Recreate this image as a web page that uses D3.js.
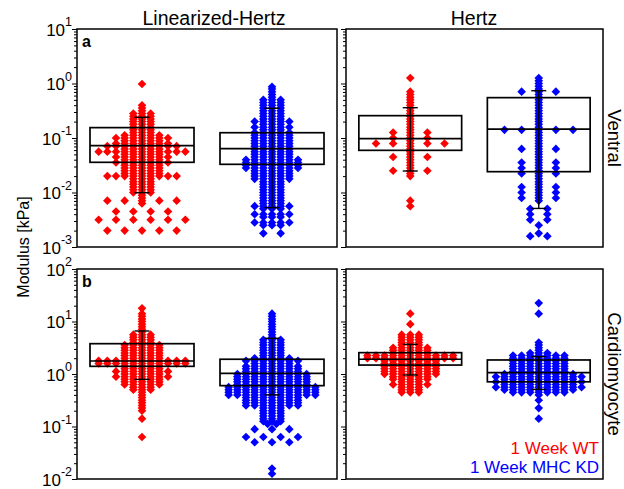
<!DOCTYPE html>
<html><head><meta charset="utf-8">
<script src="https://cdn.jsdelivr.net/npm/d3@7"></script>
<style>body{margin:0;background:#fff}svg{display:block}</style>
</head><body><svg id="c" width="624" height="489"></svg>
<script>
// ---------- categories / labels ----------
const methods = ["Linearized-Hertz", "Hertz"];
const regions = ["Ventral", "Cardiomyocyte"];
const groups = ["1 Week WT", "1 Week MHC KD"];
const groupColors = ["#ff0000", "#0000ff"];
const panelLetters = ["a", "b"];
const ventralDomain = [1e-3, 1e1];
const cardioDomain = [1e-2, 1e2];

// ---------- swarm data: [modulus kPa, number of markers at that value] ----------
const ventralLinWT = [[0.98,1],[0.398,1],[0.355,1],[0.316,1],
 [0.282,3],[0.251,3],[0.224,3],[0.200,3],[0.178,3],[0.158,3],[0.141,3],[0.126,3],
 [0.112,5],[0.100,7],[0.0891,5],[0.0794,7],[0.0708,9],[0.0631,5],[0.0562,11],[0.0501,5],[0.0447,7],[0.0398,5],[0.0355,7],[0.0316,5],
 [0.0282,5],[0.0251,5],[0.0224,5],[0.0200,9],
 [0.0178,3],[0.0158,3],[0.0141,3],[0.0126,3],[0.0112,3],
 [0.0100,3],[0.00891,1],[0.00794,1],[0.00708,5],[0.00631,1],
 [0.00447,4],[0.00316,6],[0.00200,5]];
const ventralLinKD = [[0.87,1],[0.794,1],[0.708,1],[0.631,1],[0.562,1],
 [0.501,3],[0.447,3],[0.398,3],[0.355,3],[0.316,3],[0.282,3],[0.251,3],[0.224,3],
 [0.200,5],[0.178,3],[0.158,5],[0.141,3],[0.126,5],
 [0.112,5],[0.100,5],[0.0891,5],[0.0794,5],[0.0708,5],[0.0631,5],[0.0562,5],[0.0501,5],[0.0447,5],
 [0.0398,7],[0.0355,7],[0.0316,7],[0.0282,7],
 [0.0251,5],[0.0224,5],[0.0200,5],[0.0178,5],
 [0.0158,3],[0.0141,3],[0.0126,3],[0.0112,3],[0.0100,3],[0.00891,3],[0.00794,3],[0.00708,3],[0.00631,3],
 [0.00562,5],[0.00501,3],[0.00398,5],[0.00355,3],[0.00282,5],[0.00251,3],
 [0.00178,2]];
const ventralHertzWT = [[1.26,1],[0.708,1],[0.631,1],[0.562,1],[0.501,1],[0.447,1],[0.398,1],[0.355,1],[0.316,1],
 [0.282,1],[0.251,1],[0.224,1],[0.200,1],[0.178,1],[0.158,1],[0.141,1],
 [0.126,3],[0.112,1],[0.100,3],[0.0891,1],[0.0794,5],[0.0708,1],[0.0631,1],[0.0562,1],[0.0501,1],[0.0447,3],
 [0.0398,1],[0.0355,1],[0.0316,1],[0.0282,1],[0.0251,3],[0.0224,1],[0.0200,1],
 [0.00708,1],[0.00562,1]];
const ventralHertzKD = [[1.26,1],[1.12,1],[1.00,1],[0.891,1],[0.794,1],[0.708,3],[0.631,1],[0.562,1],[0.501,1],
 [0.447,1],[0.398,1],[0.355,1],[0.316,1],[0.282,1],[0.251,1],[0.224,1],[0.200,1],[0.178,1],[0.158,1],
 [0.141,5],[0.126,1],[0.112,1],[0.100,1],[0.0891,1],[0.0794,1],[0.0708,1],[0.0631,3],[0.0562,1],[0.0501,1],
 [0.0447,1],[0.0398,1],[0.0355,3],[0.0316,1],[0.0282,3],[0.0251,1],[0.0224,3],[0.0200,1],[0.0178,1],
 [0.0158,1],[0.0141,1],[0.0126,3],[0.0112,1],[0.0100,3],[0.00891,1],[0.00794,3],[0.00708,1],
 [0.00501,2],[0.00398,2],[0.00316,2],[0.00251,1],[0.00178,1],[0.00158,2]];
const cardioLinWT = [[17.8,1],[14.1,1],[12.6,1],[11.2,1],[10.0,1],[8.91,1],[7.94,1],[7.08,1],[6.31,1],
 [5.62,3],[5.01,3],[4.47,3],[3.98,3],
 [3.55,5],[3.16,5],[2.82,5],[2.51,5],[2.24,5],[2.00,5],
 [1.78,11],[1.58,11],
 [1.41,5],[1.26,5],[1.12,7],[1.00,5],[0.891,7],[0.794,5],[0.708,5],[0.631,5],
 [0.562,3],[0.501,3],[0.447,1],[0.398,1],[0.355,1],[0.316,1],[0.282,1],[0.251,1],[0.224,1],[0.200,1],
 [0.141,1],[0.0631,1]];
const cardioLinKD = [[14.1,1],[12.6,1],[11.2,1],[10.0,1],[8.91,1],[7.94,1],[7.08,1],[6.31,1],[5.62,1],[5.01,1],
 [4.47,3],[3.98,3],[3.55,3],[3.16,3],[2.82,3],[2.51,3],[2.24,3],
 [2.00,5],[1.78,7],[1.58,5],[1.41,7],[1.26,7],[1.12,7],
 [1.00,9],[0.891,9],[0.794,9],[0.708,9],[0.631,9],
 [0.562,11],[0.501,11],[0.447,11],[0.398,11],
 [0.355,7],[0.316,7],[0.282,7],[0.251,7],
 [0.224,3],[0.200,3],[0.178,3],[0.158,3],[0.141,3],[0.126,3],
 [0.112,2],[0.0891,3],[0.0631,4],[0.0501,3],[0.0158,1],[0.0126,1]];
const cardioHertzWT = [[14.1,1],[8.91,1],
 [5.62,3],[5.01,3],[4.47,3],[3.98,3],[3.55,3],
 [3.16,5],[2.82,5],[2.51,5],
 [2.24,11],[2.00,11],
 [1.78,7],[1.58,7],[1.41,7],[1.26,7],[1.12,7],[1.00,7],
 [0.891,5],[0.794,5],[0.708,3],[0.631,5],[0.562,3],[0.501,3],[0.447,3]];
const cardioHertzKD = [[22.4,1],[14.1,1],
 [3.98,1],[3.55,1],[3.16,1],[2.82,1],
 [2.51,3],[2.24,7],[2.00,7],[1.78,7],[1.58,7],[1.41,7],[1.26,7],[1.12,7],
 [1.00,9],[0.891,11],[0.794,9],[0.708,11],[0.631,9],[0.562,11],[0.501,9],
 [0.447,7],[0.398,1],[0.316,1],[0.224,1],[0.141,1]];

// ---------- box stats: [q1, median, q3, whiskerLow, whiskerHigh] ----------
const boxVentralLinWT = [0.0358, 0.0723, 0.155, 0.0099, 0.24];
const boxVentralLinKD = [0.0329, 0.0637, 0.125, 0.00526, 0.351];
const boxVentralHertzWT = [0.0594, 0.097, 0.257, 0.0248, 0.36];
const boxVentralHertzKD = [0.0241, 0.146, 0.55, 0.0051, 0.738];
const boxCardioLinWT = [1.40, 1.77, 3.78, 0.79, 6.6];
const boxCardioLinKD = [0.60, 1.03, 1.91, 0.40, 4.79];
const boxCardioHertzWT = [1.48, 1.91, 2.55, 0.957, 3.68];
const boxCardioHertzKD = [0.71, 1.06, 1.85, 0.51, 2.14];

// ---------- layout ----------
const FONT = "'Liberation Sans', Arial, Helvetica, sans-serif";
const colRanges = [[77, 337], [346, 603]];
const rowRanges = [[29, 247], [269, 479]];
const titleX = [214, 474];
const panels = [
  {r:0, c:0, swarms:[ventralLinWT, ventralLinKD], boxes:[boxVentralLinWT, boxVentralLinKD]},
  {r:0, c:1, swarms:[ventralHertzWT, ventralHertzKD], boxes:[boxVentralHertzWT, boxVentralHertzKD]},
  {r:1, c:0, swarms:[cardioLinWT, cardioLinKD], boxes:[boxCardioLinWT, boxCardioLinKD]},
  {r:1, c:1, swarms:[cardioHertzWT, cardioHertzKD], boxes:[boxCardioHertzWT, boxCardioHertzKD]},
];

const svg = d3.select("#c");
const diamond = "M0,-4.3L4.3,0L0,4.3L-4.3,0Z";

// markers sharing a value are spread sideways on a column grid:
// rows inside a dense cluster pack side by side, lone rows spread with gaps
function swarmPoints(rows, cx, y, colW) {
  const merged = Array.from(d3.rollup(rows, v => d3.sum(v, d => d[1]), d => d[0]));
  const pts = [];
  merged.forEach(([val, n]) => {
    const lv = Math.log10(val);
    const neigh = merged.filter(([v2]) => v2 !== val && Math.abs(Math.log10(v2) - lv) < 0.06);
    let stepC = neigh.every(([, n2]) => n2 <= 1) ? 2 : 1;
    if (n > 1) stepC = Math.min(stepC, 10 / (n - 1));
    for (let i = 0; i < n; i++) {
      const off = (i - (n - 1) / 2) * stepC;
      pts.push({x: cx + off * colW, y: y(val)});
    }
  });
  return pts;
}

panels.forEach(p => {
  const [x0, x1] = colRanges[p.c];
  const [y0, y1] = rowRanges[p.r];
  const y = d3.scaleLog().domain(p.r === 0 ? ventralDomain : cardioDomain).range([y1, y0]);
  const x = d3.scalePoint().domain(groups).range([x0, x1]).padding(0.5);
  const step = x.step();
  const colW = step / 15;
  const g = svg.append("g");

  groups.forEach((grp, gi) => {
    const pts = swarmPoints(p.swarms[gi], x(grp), y, colW);
    g.append("g").selectAll("path").data(pts).join("path")
      .attr("d", diamond)
      .attr("transform", d => `translate(${d.x},${d.y})`)
      .attr("fill", groupColors[gi]);
  });

  groups.forEach((grp, gi) => {
    const [q1, med, q3, wl, wh] = p.boxes[gi];
    const cx = x(grp), bw = step * 0.8;
    const bg = g.append("g").attr("stroke", "#000").attr("fill", "none").attr("stroke-width", 1.7);
    bg.append("rect").attr("x", cx - bw / 2).attr("y", y(q3)).attr("width", bw).attr("height", y(q1) - y(q3));
    bg.append("line").attr("x1", cx - bw / 2).attr("x2", cx + bw / 2).attr("y1", y(med)).attr("y2", y(med));
    bg.append("line").attr("x1", cx).attr("x2", cx).attr("y1", y(wl)).attr("y2", y(wh)).attr("stroke-width", 1.4);
    [wl, wh].forEach(v => bg.append("line").attr("x1", cx - 7.5).attr("x2", cx + 7.5)
      .attr("y1", y(v)).attr("y2", y(v)).attr("stroke-width", 1.4));
  });

  g.append("rect").attr("x", x0).attr("y", y0).attr("width", x1 - x0).attr("height", y1 - y0)
    .attr("fill", "none").attr("stroke", "#000").attr("stroke-width", 1.5);

  const [dLo, dHi] = y.domain();
  const decades = d3.range(Math.round(Math.log10(dLo)), Math.round(Math.log10(dHi)) + 1);
  const tickVals = [];
  decades.forEach(e => { for (let m = 1; m <= 9; m++) { const v = m * Math.pow(10, e); if (v <= dHi * 1.0001) tickVals.push(v); } });
  const isMajor = d => Math.abs(Math.log10(d) - Math.round(Math.log10(d))) < 1e-6;
  const ax = g.append("g").attr("transform", `translate(${x0},0)`)
    .call(d3.axisLeft(y).tickValues(tickVals).tickSize(5).tickSizeOuter(0).tickFormat(() => ""));
  ax.select(".domain").remove();
  ax.selectAll(".tick line").attr("stroke", "#000").attr("stroke-width", 1)
    .attr("x2", d => isMajor(d) ? -5 : -3);
  if (p.c === 0) {
    ax.selectAll(".tick").filter(isMajor).each(function(d) {
      const e = Math.round(Math.log10(d));
      const t = d3.select(this).select("text")
        .attr("x", -5).attr("dy", null).attr("y", 0)
        .attr("text-anchor", "end").attr("fill", "#000")
        .attr("font-family", FONT).text(null);
      t.append("tspan").attr("font-size", 17).attr("dy", "0.36em").text("10");
      t.append("tspan").attr("font-size", 12.5).attr("dy", "-0.75em").text(String(e));
    });
    g.append("text").attr("x", x0 + 5).attr("y", y0 + 18).attr("font-family", FONT)
      .attr("font-weight", "bold").attr("font-size", 16).text(panelLetters[p.r]);
  }
  if (p.r === 0) {
    g.append("text").attr("x", titleX[p.c]).attr("y", y0 - 4).attr("text-anchor", "middle")
      .attr("font-family", FONT).attr("font-size", 19.5).text(methods[p.c]);
  }
  if (p.c === 1) {
    g.append("text").attr("transform", `translate(${x1 + 4.5},${(y0 + y1) / 2}) rotate(90)`)
      .attr("text-anchor", "middle").attr("font-family", FONT).attr("font-size", 18.5).text(regions[p.r]);
  }
  if (p.r === 1 && p.c === 1) {
    groups.forEach((grp, gi) => {
      g.append("text").attr("x", x1 - 4).attr("y", y1 - 25 + gi * 19).attr("text-anchor", "end")
        .attr("font-family", FONT).attr("font-size", 17).attr("fill", groupColors[gi]).text(grp);
    });
  }
});

svg.append("text").attr("transform", "translate(29,247) rotate(-90)").attr("text-anchor", "middle")
  .attr("font-family", FONT).attr("font-size", 16).text("Modulus [kPa]");
</script></body></html>
